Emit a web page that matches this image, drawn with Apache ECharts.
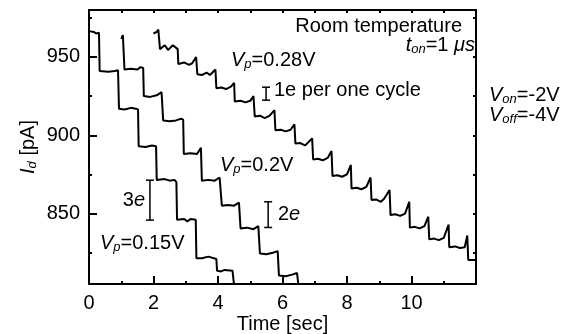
<!DOCTYPE html>
<html><head><meta charset="utf-8">
<script src="https://cdn.jsdelivr.net/npm/echarts@6/dist/echarts.min.js"></script>
<style>html,body{margin:0;padding:0;background:#fff}#c{width:562px;height:334px}</style>
</head><body><div id="c"></div>
<script>
// Time [sec], Id [pA]
var seriesVp015 = [[0,966.5],[0.15,966],[0.22,965],[0.31,965.5],[0.33,941],[0.6,940.5],[0.8,941],[0.9,941.5],[0.93,917],[1.1,916.5],[1.3,917.5],[1.45,917],[1.52,916.5],[1.54,893],[1.75,892.5],[1.95,893.5],[2.08,893],[2.1,871.5],[2.35,872],[2.5,871],[2.65,871.5],[2.71,870],[2.73,846],[2.95,846.5],[3.05,845],[3.15,846.5],[3.31,846],[3.33,821.5],[3.5,821.5],[3.7,822.5],[3.95,821],[3.97,813.5],[4.1,813],[4.2,814],[4.45,813.5],[4.52,800]];
var seriesVp020 = [[1.0,961.5],[1.05,964],[1.08,965],[1.1,942],[1.3,942.5],[1.5,942],[1.6,943.5],[1.68,943],[1.7,925],[1.9,924.5],[2.1,925.5],[2.25,927.5],[2.3,909.5],[2.5,909],[2.7,909.5],[2.85,910.5],[2.92,910],[2.94,888],[3.15,888.5],[3.35,888],[3.47,892],[3.5,871],[3.7,871.5],[3.9,871],[4.05,873],[4.1,872.5],[4.12,855],[4.3,855.5],[4.5,855],[4.65,857],[4.7,840.5],[4.9,841],[5.1,840],[5.25,842],[5.3,824.5],[5.5,824],[5.7,825],[5.85,826],[5.89,810.5],[6.1,810],[6.3,811],[6.45,812],[6.52,800]];
var seriesVp028 = [[2.0,965],[2.1,966],[2.15,967.5],[2.2,955],[2.35,957.5],[2.45,954.5],[2.6,957.5],[2.75,955],[2.77,945.5],[2.95,946.5],[3.1,945],[3.2,946],[3.32,950],[3.36,939],[3.5,938.5],[3.65,940],[3.75,938.5],[3.92,942],[3.95,930],[4.1,930.5],[4.25,929.5],[4.4,931],[4.5,933.5],[4.52,921.5],[4.7,922],[4.85,921],[5.0,922],[5.1,925],[5.14,912],[5.3,912.5],[5.45,911],[5.6,912.5],[5.75,916],[5.78,903.2],[5.95,903.5],[6.1,902.5],[6.25,903.5],[6.37,907],[6.4,894.7],[6.55,895],[6.7,893.5],[6.8,895.5],[6.92,898],[6.95,884.5],[7.1,885],[7.25,884],[7.4,885.5],[7.52,890],[7.55,874],[7.7,874.5],[7.85,873.5],[8.0,875],[8.12,881],[8.14,866],[8.3,866.5],[8.45,865.5],[8.6,867],[8.73,873],[8.76,858.6],[8.9,859],[9.05,857.5],[9.15,859.5],[9.32,865],[9.35,849],[9.5,849.5],[9.65,848.5],[9.8,850],[9.93,857.5],[9.95,841],[10.1,841.5],[10.25,840.5],[10.4,842],[10.52,848],[10.55,833.5],[10.7,834],[10.85,833],[11.0,834.5],[11.15,843],[11.17,828.5],[11.35,829],[11.5,828],[11.65,828.5],[11.73,836],[11.76,820.3],[12.0,820.3]];
// scale bars: [time, low, high]
var scaleBars = [[5.49,922.4,930.7],[5.555,841.1,857.5],[1.89,845.8,871.3]];
var xTickLabels = [0,2,4,6,8,10];
var yTickLabels = [850,900,950];
var yMinorTicks = [825,875,925,975];
var rightTicks = [825,850,875,900,925,950,975];
var topTicks = [0,1,2,3,4,5,6,7,8,9,10,11,12];

var FF = 'Liberation Sans, Arial, sans-serif';
var FS = 20;
var rich = {
  n:{fontSize:FS,fontFamily:FF,color:'#000'},
  i:{fontSize:FS,fontFamily:FF,fontStyle:'italic',color:'#000'},
  s:{fontSize:13,fontFamily:FF,fontStyle:'italic',color:'#000',verticalAlign:'bottom',padding:[8,0,0,0]}
};
function txt(x,y,text,align){
  return {type:'text',x:x,y:y,silent:true,style:{text:text,rich:rich,align:align||'left',verticalAlign:'middle',font:FS+'px '+FF,fill:'#000'}};
}
var chart = echarts.init(document.getElementById('c'),null,{renderer:'canvas'});
var lineS = {type:'line',showSymbol:false,symbol:'none',lineStyle:{color:'#000',width:2},animation:false,clip:true};
chart.setOption({
  backgroundColor:'#fff',
  animation:false,
  grid:{left:89,right:86,top:10,bottom:50,containLabel:false,outerBoundsMode:'none'},
  xAxis:[
    {type:'value',min:0,max:12,interval:2,position:'bottom',
     axisLine:{lineStyle:{color:'#000',width:2}},
     axisTick:{inside:true,length:8,lineStyle:{color:'#000',width:2}},
     minorTick:{show:true,splitNumber:2,length:3,lineStyle:{color:'#000',width:2}},
     axisLabel:{customValues:xTickLabels,color:'#000',fontSize:FS,fontFamily:FF,margin:9},
     splitLine:{show:false},
     name:'Time [sec]',nameLocation:'middle',nameGap:30,nameMoveOverlap:false,nameTextStyle:{color:'#000',fontSize:FS,fontFamily:FF}},
    {type:'value',min:0,max:12,position:'top',
     axisLine:{lineStyle:{color:'#000',width:2}},
     axisTick:{inside:true,length:3,customValues:topTicks,lineStyle:{color:'#000',width:2}},
     axisLabel:{show:false},splitLine:{show:false}}
  ],
  yAxis:[
    {type:'value',min:805,max:980,position:'left',
     axisLine:{show:true,lineStyle:{color:'#000',width:2}},
     axisTick:{show:true,inside:true,length:8,customValues:yTickLabels,lineStyle:{color:'#000',width:2}},
     axisLabel:{customValues:yTickLabels,color:'#000',fontSize:FS,fontFamily:FF,margin:9},
     splitLine:{show:false},
     name:'{i|I}{s|d} [pA]',nameLocation:'middle',nameGap:50,nameRotate:90,nameMoveOverlap:false,
     nameTextStyle:{color:'#000',fontSize:FS,fontFamily:FF,rich:rich}},
    {type:'value',min:805,max:980,position:'left',
     axisLine:{show:false},
     axisTick:{show:true,inside:true,length:3,customValues:yMinorTicks,lineStyle:{color:'#000',width:2}},
     axisLabel:{show:false},splitLine:{show:false}},
    {type:'value',min:805,max:980,position:'right',
     axisLine:{show:true,lineStyle:{color:'#000',width:2}},
     axisTick:{show:true,inside:true,length:3,customValues:rightTicks,lineStyle:{color:'#000',width:2}},
     axisLabel:{show:false},splitLine:{show:false}}
  ],
  series:[
    Object.assign({},lineS,{data:seriesVp015}),
    Object.assign({},lineS,{data:seriesVp020}),
    Object.assign({},lineS,{data:seriesVp028}),
    {type:'custom',data:scaleBars,animation:false,silent:true,
     renderItem:function(params,api){
       var lo=api.coord([api.value(0),api.value(1)]);
       var hi=api.coord([api.value(0),api.value(2)]);
       var w=4;
       var st={stroke:'#000',lineWidth:1.5,fill:null};
       return {type:'group',children:[
         {type:'line',shape:{x1:lo[0],y1:lo[1],x2:hi[0],y2:hi[1]},style:st},
         {type:'line',shape:{x1:lo[0]-w,y1:lo[1],x2:lo[0]+w,y2:lo[1]},style:st},
         {type:'line',shape:{x1:hi[0]-w,y1:hi[1],x2:hi[0]+w,y2:hi[1]},style:st}
       ]};
     }}
  ],
  graphic:[
    txt(462,26,'{n|Room temperature}','right'),
    txt(475,45,'{i|t}{s|on}{n|=1 }{i|μs}','right'),
    txt(231,60,'{i|V}{s|p}{n|=0.28V}'),
    txt(274,90,'{n|1e per one cycle}'),
    txt(489,95,'{i|V}{s|on}{n|=-2V}'),
    txt(489,115,'{i|V}{s|off}{n|=-4V}'),
    txt(220,165,'{i|V}{s|p}{n|=0.2V}'),
    txt(278,214,'{n|2}{i|e}'),
    txt(145,200,'{n|3}{i|e}','right'),
    txt(100,243,'{i|V}{s|p}{n|=0.15V}')
  ]
});
</script></body></html>
